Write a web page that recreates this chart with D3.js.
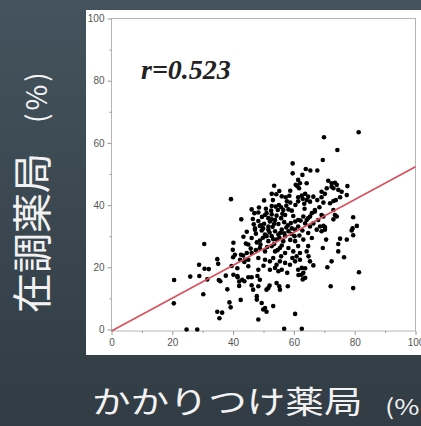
<!DOCTYPE html>
<meta charset="utf-8">
<script src="https://d3js.org/d3.v7.min.js"></script>
<style>
  body { margin: 0; background: #333f47; }
  svg { display: block; }
</style>
<div id="chart"></div>
<script>
// かかりつけ薬局 (x) vs 在調薬局 (y), percentages
const points = [
  [20.6,15.9],[20.5,8.4],[24.7,0],[28.2,0],[25.9,17],[28.9,17.2],[28.8,20.8],[30.6,19.5],[30.5,27.5],[30.2,11.3],
  [31.5,16.1],[32,19.4],[34.8,22.6],[35.1,21.1],[34.8,5.7],[35.5,3.6],[36.4,5.4],[35.3,15.9],[35.8,15.5],[37.6,17.3],
  [38.1,12.9],[38.8,8.7],[39.2,7.1],[39.5,20.4],[40,23.2],[39.9,25.6],[40.1,27.9],[40.6,24],[41.4,19.7],[41.4,17.2],
  [40.1,17.6],[41.5,16.8],[42,15.4],[42,14],[42.5,9.5],[42.6,24],[43.3,23.8],[43.7,21.7],[42.3,22.4],[43.9,22.4],
  [43,16],[43.7,15.5],[39.3,41.9],[42.7,35.4],[44.5,31.4],[43.4,29.8],[44.2,27.6],
  [47.2,32.1],[49.4,31.8],[51.6,32.1],[53.8,31.6],[56,32.1],[58.2,31.6],[60.4,32.1],[50.5,30.5],[52.7,30],[54.9,30.5],
  [57.1,30],[59.3,30.7],[46.1,29.4],[48.8,28.6],[51.6,28.4],[54.3,28.9],[56.5,28.4],[60.4,28.4],[63.1,28.9],[65.9,29.4],
  [64.7,31],[67.5,32.1],[45,27.3],[44.5,24.6],[46.1,24.6],[48.8,26.2],[50.5,25.1],[52.7,26.8],[53.8,25.1],[55.4,26.2],
  [57.1,24.6],[58.2,26.2],[59.8,25.1],[61.4,26.8],[62,24.6],[64.2,25.1],[64.7,26.8],[45,22.4],[48.3,23],[50.5,22.4],
  [52.1,21.9],[53.2,23],[54.3,20.8],[55.4,21.9],[56,19.2],[54.9,18.7],[53.8,19.8],[52.1,19.2],[48.3,19.2],[45,20.3],
  [60.9,23.5],[62,22.4],[62.6,19.8],[61.4,19.2],[63.1,18.2],[63.7,16.6],[65.3,21.9],[66.4,20.6],[57.1,21.4],[58.7,20.8],
  [60.4,21.9],[45,16.8],[46.1,16.8],[48.8,16],[48,17.2],[46.6,12.8],[48.3,13.9],[46.1,14.2],[51,12.8],[51.6,13.3],
  [52,14.1],[54.3,14.9],[55.2,13.9],[55.4,12.8],[58,13.9],[47.8,10.7],[47.8,9.6],[49.4,8.5],[50.5,6.9],[49.9,6.4],
  [51,5.7],[53.2,7.5],[48.3,3.2],[60.4,5],[56.8,0.2],[62.6,0.2],[62.9,16.1],[61.5,17.5],[62.5,17.6],[63.7,19.7],
  [64.8,23.5],
  [69.1,31.6],[70.2,32.1],[79,31.8],[79.5,30.3],[70.6,28.9],[75.2,29.2],[77.4,28.9],[74.6,27.5],[69.5,26.2],[74.6,25.1],
  [76.5,23.2],[72.4,21.9],[71,20],[81.4,18.4],[72.1,13.9],[79.5,13.3],
  [65.3,41.1],[66.4,42.7],[67.7,41.6],[68.4,39.3],[66.9,37.9],[65.3,36.3],[64.2,35.2],[66.4,34.1],[68,35.2],[69.7,36.3],
  [68.6,33.1],[71.3,47.8],[72.4,47],[73.5,47.2],[74.1,46.5],[73,45.4],[72.4,45.9],[74.6,44.9],[77.6,46.1],[70.8,45.4],
  [69.1,44.3],[70.2,43.6],[75.7,44.3],[77.4,43.2],[75.2,42.5],[73.8,41.6],[73,41.3],[69.1,42.5],[69.7,40.8],[71.9,40.6],
  [73,38.4],[73.5,36.8],[74.1,36.3],[73,35.4],[69.1,36.8],[79.5,36.1],[80.7,33.3],[69.7,33.3],[70.2,32.9],[79.3,32.5],
  [69.9,61.8],[81.3,63.4],[74.3,57.7],[69.5,54.5],
  [59.6,53.4],[59.6,50.2],[63.9,51.6],[65.4,51.1],[67.7,51.1],[62.8,49.7],[61.4,48.1],[60.6,46.5],[62,47],[64.2,47],
  [61.7,45.4],[61.1,46.1],[53.5,46.2],[55.2,44.5],[52.7,43.6],[58.8,44.6],[61.4,42.5],[62.6,43.1],[63.7,43.6],[64.7,42.7],
  [64.2,41.6],[62.9,42],[63.4,40.4],[61.4,41.2],[57.3,42.5],[57.7,41.2],[53.1,41.6],[52.7,39.7],[55.1,40],[55.8,39.3],
  [54.7,38.4],[56.5,38.4],[58.2,38.6],[59.3,38.2],[57.1,36.8],[54.3,36.6],[52.7,37],[51,37.4],[51.6,35.8],[52.7,35.4],
  [52.1,34.7],[53.8,35.2],[54.9,33.9],[55.8,35.8],[48.5,39.2],[46.1,38.6],[48.3,37.6],[47,37.4],[48.3,34.9],[48.8,33.3],
  [47.2,32.5],[49.9,32.5],[51.6,33.1],[61.4,35.2],[63.1,36.3],[64.7,35.8],[63.7,34.1],[65.9,37.4],[66.9,38.4],[65.3,33.1],
  [61.4,33.1],[60.4,34.7],[59.3,32.5],
  [46.5,35.5],[47.5,30.8],[49.5,36.2],[50.2,34],[50.8,38.8],[53,33],[55.5,31],[56.8,34.5],[58,33.5],[57.5,39.8],
  [59.8,36.5],[60.5,40],[58.5,43],[56,42.8],[54.2,43.5],[50.2,41.5],[49,27.3],[51,30],[53.5,27.5],[56,27],
  [58.8,28.8],[61.8,30.2],[62.8,31.8],[47.5,25.5],[45.8,26],[55.8,23.5],[59.5,23],[50,20.5],[57.8,18.2],[63.5,38.8],
  [47.8,28],[49.8,29.5],[52,31.2],[53.2,29],[55.2,29.5],[57.5,32.8],[59,34.2],[52.5,38.2],[54,39.5],[56.2,37.2],
  [50.5,36.8],[49.2,33.5],[46.8,33.8],[58.8,40.8],[60.2,30],[62.2,35],[56.8,30.9],[51.2,26.5],[54.6,25.5],[53.5,34]
];

const majorTicks = [0, 20, 40, 60, 80, 100];
const minorTicks = [10, 30, 50, 70, 90];

// regression line
const fitIntercept = -0.5;
const fitSlope = 0.528;
const rLabel = "r=0.523";

const xTitle = "かかりつけ薬局";
const xUnit = "(%";
const yTitle = "在調薬局";
const yUnit = "(%)";

const width = 421, height = 426;

const svg = d3.select("#chart").append("svg")
    .attr("width", width)
    .attr("height", height);

// slide background
const grad = svg.append("defs").append("linearGradient")
    .attr("id", "bg").attr("x1", 0).attr("y1", 0).attr("x2", 0).attr("y2", 1);
grad.append("stop").attr("offset", "0%").attr("stop-color", "#44535d");
grad.append("stop").attr("offset", "100%").attr("stop-color", "#313c44");
svg.append("rect").attr("width", width).attr("height", height).attr("fill", "url(#bg)");

// white picture area
svg.append("rect")
    .attr("x", 86).attr("y", 10)
    .attr("width", 335).attr("height", 345)
    .attr("fill", "#fff");

const xScale = d3.scaleLinear().domain([0, 100]).range([111.5, 415.5]);
const yScale = d3.scaleLinear().domain([-0.5, 100]).range([331, 18.5]);

// frame
svg.append("rect")
    .attr("x", xScale(0)).attr("y", yScale(100))
    .attr("width", xScale(100) - xScale(0))
    .attr("height", yScale(-0.5) - yScale(100))
    .attr("fill", "none")
    .attr("stroke", "#b5b5b5");

function styleAxis(g) {
    g.select(".domain").remove();
    g.selectAll(".tick line").attr("stroke", "#9a9a9a");
    g.selectAll(".tick text")
        .attr("fill", "#555")
        .attr("font-family", "Liberation Sans, Arial, sans-serif")
        .attr("font-size", 10);
}

svg.append("g")
    .attr("transform", `translate(${xScale(0)},0)`)
    .call(d3.axisLeft(yScale).tickValues(majorTicks).tickSize(4).tickPadding(3))
    .call(styleAxis);
svg.append("g")
    .attr("transform", `translate(${xScale(0)},0)`)
    .call(d3.axisLeft(yScale).tickValues(minorTicks).tickSize(2).tickFormat(""))
    .call(styleAxis);

svg.append("g")
    .attr("transform", `translate(0,${yScale(-0.5)})`)
    .call(d3.axisBottom(xScale).tickValues(majorTicks).tickSize(4).tickPadding(4))
    .call(styleAxis);
svg.append("g")
    .attr("transform", `translate(0,${yScale(-0.5)})`)
    .call(d3.axisBottom(xScale).tickValues(minorTicks).tickSize(2).tickFormat(""))
    .call(styleAxis);

// points
svg.append("g")
    .selectAll("circle")
    .data(points)
    .join("circle")
    .attr("cx", d => xScale(d[0]))
    .attr("cy", d => yScale(d[1]))
    .attr("r", 2.3)
    .attr("fill", "#000");

// fitted line
svg.append("path")
    .datum([0, 100])
    .attr("fill", "none")
    .attr("stroke", "#d9505c")
    .attr("stroke-width", 1.6)
    .attr("d", d3.line()
        .x(d => xScale(d))
        .y(d => yScale(fitIntercept + fitSlope * d)));

// correlation label
svg.append("text")
    .attr("x", 141).attr("y", 79)
    .attr("font-family", "Liberation Serif, Times New Roman, serif")
    .attr("font-style", "italic")
    .attr("font-weight", "bold")
    .attr("font-size", 28)
    .attr("fill", "#222")
    .text(rLabel);

// axis titles
const xt = svg.append("text")
    .attr("transform", "translate(92,413) scale(1.245,1)")
    .attr("font-family", "Noto Sans CJK JP, sans-serif")
    .attr("font-size", 31)
    .attr("fill", "#f2f2f2")
    .text(xTitle);
xt.append("tspan")
    .attr("dx", 18).attr("dy", 2)
    .attr("font-size", 22)
    .text(xUnit);

const yt = svg.append("text")
    .attr("transform", "translate(47,313) rotate(-90)")
    .attr("font-family", "Noto Sans CJK JP, sans-serif")
    .attr("font-size", 40)
    .attr("fill", "#f2f2f2")
    .text(yTitle);
yt.append("tspan")
    .attr("dx", 30)
    .attr("font-size", 28)
    .attr("letter-spacing", 3)
    .text(yUnit);
</script>
